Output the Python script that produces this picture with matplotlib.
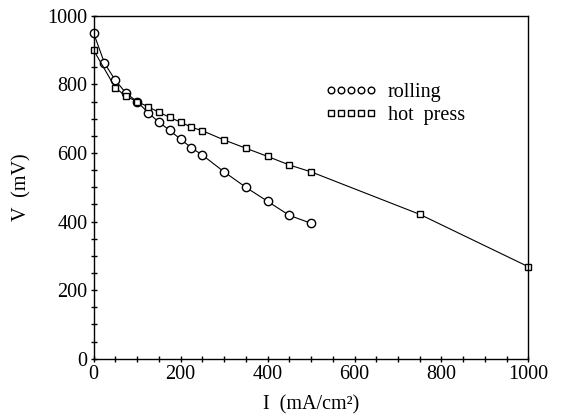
import matplotlib
matplotlib.use("Agg")
import matplotlib.pyplot as plt
from matplotlib.ticker import MultipleLocator

# rolling electrode
rolling_i = [0, 25, 50, 75, 100, 125, 150, 175, 200, 225, 250, 300, 350, 400, 450, 500]
rolling_v = [950, 862, 812, 774, 750, 718, 690, 666, 640, 615, 594, 545, 500, 459, 418, 395]

# hot pressed electrode
hot_i = [0, 50, 75, 100, 125, 150, 175, 200, 225, 250, 300, 350, 400, 450, 500, 750, 1000]
hot_v = [900, 790, 765, 750, 735, 719, 704, 690, 675, 665, 638, 614, 590, 565, 545, 421, 268]

x_ticks = [0, 200, 400, 600, 800, 1000]
y_ticks = [0, 200, 400, 600, 800, 1000]

plt.rcParams["font.family"] = ["Liberation Serif", "DejaVu Serif"]

fig = plt.figure(figsize=(5.64, 4.18), dpi=100)
ax = fig.add_axes([0.166, 0.142, 0.771, 0.820])

ax.plot(rolling_i, rolling_v, color="black", lw=0.8, marker="o", ms=6,
        mfc="white", mec="black", mew=1.0, label="rolling", clip_on=False)
ax.plot(hot_i, hot_v, color="black", lw=0.8, marker="s", ms=5,
        mfc="white", mec="black", mew=1.0, label="hot  press", clip_on=False)

ax.set_xlim(0, 1000)
ax.set_ylim(0, 1000)
ax.set_xticks(x_ticks)
ax.set_yticks(y_ticks)
ax.xaxis.set_minor_locator(MultipleLocator(50))
ax.yaxis.set_minor_locator(MultipleLocator(50))
ax.tick_params(which="both", direction="inout", length=5, width=1.0,
               labelsize=14.5, pad=2)
ax.tick_params(which="minor", length=4)

for s in ax.spines.values():
    s.set_linewidth(1.0)

ax.set_xlabel("I  (mA/cm\u00b2)", fontsize=14.5, labelpad=8)
ax.set_ylabel("V  (mV)", fontsize=14.5, labelpad=11)

leg = ax.legend(loc="upper left", bbox_to_anchor=(0.50, 0.845), frameon=False,
                numpoints=5, handlelength=2.6, handletextpad=0.5,
                labelspacing=0.2, fontsize=14.5, markerscale=0.8,
                borderpad=0.2)
for h in leg.get_lines():
    h.set_linewidth(0)

fig.savefig("out.png", dpi=100)
